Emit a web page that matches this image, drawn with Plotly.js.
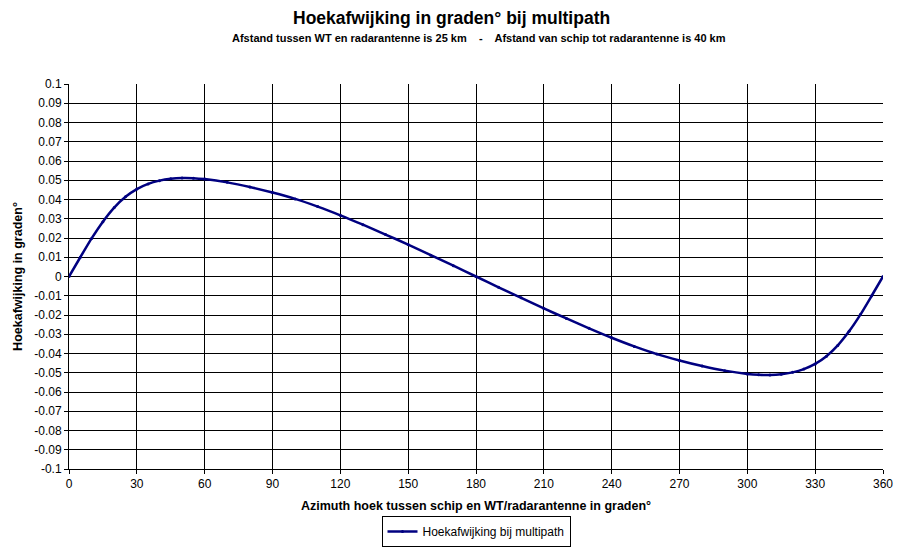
<!DOCTYPE html>
<html>
<head>
<meta charset="utf-8">
<script src="https://cdn.plot.ly/plotly-3.0.1.min.js"></script>
<style>html,body{margin:0;padding:0;background:#fff;}#chart{width:897px;height:550px;}</style>
</head>
<body>
<div id="chart"></div>
<script>
const azimuth = [0,5,10,15,20,25,30,35,40,45,50,55,60,70,80,90,100,110,120,130,140,150,160,170,180,
  190,200,210,220,230,240,250,260,270,280,290,300,305,310,315,320,325,330,335,340,345,350,355,360];
const afwijking = [0,0.0100,0.0198,0.0285,0.0358,0.0414,0.0454,0.0481,0.0498,0.0508,0.0512,0.0511,0.0506,0.0489,0.0465,0.0436,0.0403,0.0363,0.0318,0.0269,0.0218,0.0166,0.0111,0.0056,0,
  -0.0056,-0.0111,-0.0166,-0.0218,-0.0269,-0.0318,-0.0363,-0.0403,-0.0436,-0.0465,-0.0489,-0.0506,-0.0511,-0.0512,-0.0508,-0.0498,-0.0481,-0.0454,-0.0414,-0.0358,-0.0285,-0.0198,-0.0100,0];
const xTicks = [0,30,60,90,120,150,180,210,240,270,300,330,360];
const yTicks = [0.1,0.09,0.08,0.07,0.06,0.05,0.04,0.03,0.02,0.01,0,-0.01,-0.02,-0.03,-0.04,-0.05,-0.06,-0.07,-0.08,-0.09,-0.1];
const yTickText = ["0.1","0.09","0.08","0.07","0.06","0.05","0.04","0.03","0.02","0.01","0","-0.01","-0.02","-0.03","-0.04","-0.05","-0.06","-0.07","-0.08","-0.09","-0.1"];

const font = "Arial, 'Liberation Sans', sans-serif";
const trace = {
  x: azimuth, y: afwijking, type: 'scatter', mode: 'lines+markers',
  name: 'Hoekafwijking bij multipath',
  line: {color: '#000080', width: 2.5, shape: 'spline', smoothing: 0.6},
  marker: {color: '#000080', size: 3, symbol: 'circle'}
};
const layout = {
  width: 897, height: 550,
  margin: {l: 69, r: 14, t: 84, b: 81, autoexpand: false},
  paper_bgcolor: '#fff', plot_bgcolor: '#fff',
  font: {family: font, size: 12, color: '#000'},
  showlegend: true,
  legend: {orientation: 'h', x: 476 / 897, xanchor: 'center', xref: 'container', y: 0.0336, yref: 'container', yanchor: 'middle',
    bordercolor: '#000', borderwidth: 1, font: {family: font, size: 12, color: '#000'},
    itemwidth: 30, tracegroupgap: 0},
  xaxis: {range: [0, 360], tickvals: xTicks, ticktext: xTicks.map(String), automargin: false,
    showgrid: true, gridcolor: '#000', gridwidth: 1, zeroline: false,
    showline: true, linecolor: '#000', linewidth: 1, ticks: 'outside', ticklen: 4, tickcolor: '#000',
    tickfont: {family: font, size: 12, color: '#000'}, fixedrange: true,
    title: {text: '<b>Azimuth hoek tussen schip en WT/radarantenne in graden°</b>', font: {family: font, size: 12.5, color: '#000'}, standoff: 10}},
  yaxis: {range: [-0.1, 0.1], tickvals: yTicks, ticktext: yTickText, automargin: false,
    showgrid: true, gridcolor: '#000', gridwidth: 1, zeroline: false,
    showline: true, linecolor: '#000', linewidth: 1, ticks: 'outside', ticklen: 4, tickcolor: '#000',
    tickfont: {family: font, size: 12, color: '#000'}, fixedrange: true,
    title: {text: '<b>Hoekafwijking in graden°</b>', font: {family: font, size: 12.5, color: '#000'}, standoff: 8}},
  annotations: [
    {text: '<b>Hoekafwijking in graden° bij multipath</b>', xref: 'paper', yref: 'paper', x: (451 - 69) / 814, y: 1, yshift: 66,
     xanchor: 'center', yanchor: 'middle', showarrow: false, font: {family: font, size: 17.5, color: '#000'}},
    {text: '<b>Afstand tussen WT en radarantenne is 25 km&nbsp;&nbsp;&nbsp; -&nbsp;&nbsp;&nbsp; Afstand van schip tot radarantenne is 40 km</b>', xref: 'paper', yref: 'paper', x: (479 - 69) / 814, y: 1, yshift: 46,
     xanchor: 'center', yanchor: 'middle', showarrow: false, font: {family: font, size: 11, color: '#000'}}
  ]
};
Plotly.newPlot('chart', [trace], layout, {displayModeBar: false, staticPlot: true});
</script>
</body>
</html>
